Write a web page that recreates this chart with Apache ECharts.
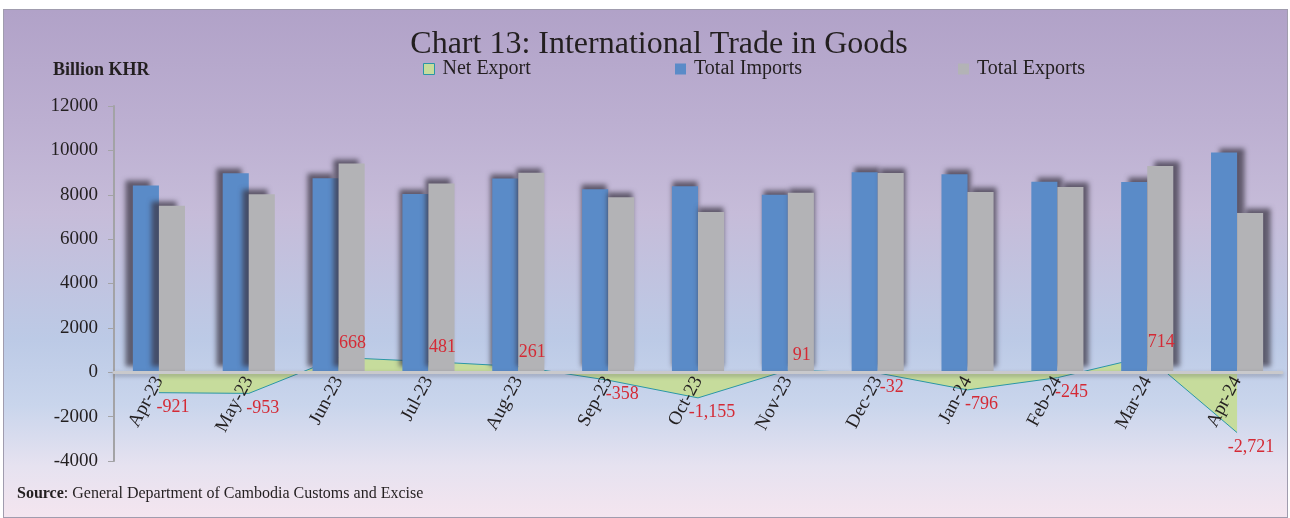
<!DOCTYPE html>
<html>
<head>
<meta charset="utf-8">
<script src="https://cdn.jsdelivr.net/npm/echarts@6/dist/echarts.min.js"></script>
<style>
  body { margin: 0; background: #fff; }
  #main {
    position: absolute; left: 3px; top: 9px; width: 1285px; height: 509px;
    box-sizing: border-box; border: 1px solid #a09cae;
    background: linear-gradient(to bottom, #b1a2c8 0%, #bcafd1 22%, #c6bcd9 40%, #bccae6 65%, #c9d5ec 78%, #e6e2f0 90%, #f4e5ef 100%);
  }
</style>
</head>
<body>
<div id="main"></div>
<script>
// months on the x axis
var months = ['Apr-23','May-23','Jun-23','Jul-23','Aug-23','Sep-23','Oct-23','Nov-23','Dec-23','Jan-24','Feb-24','Mar-24','Apr-24']
// billion KHR
var totalImports = [8420, 8970, 8740, 8030, 8730, 8250, 8380, 7995, 9015, 8920, 8590, 8580, 9900]
var totalExports = [7499, 8017, 9408, 8511, 8991, 7892, 7225, 8086, 8983, 8124, 8345, 9294, 7179]
var netExport = [-921, -953, 668, 481, 261, -358, -1155, 91, -32, -796, -245, 714, -2721]
var yTicks = [-4000, 12000, 2000] // min, max, step

var serif = 'Liberation Serif'
var chart = echarts.init(document.getElementById('main'))

var gridTop = 96, gridBottom = 56
var gridH = 509 - gridTop - gridBottom
// month labels sit on the zero line like in the original
var zeroOffset = -gridH * (0 - yTicks[0]) / (yTicks[1] - yTicks[0])

// bars get a slanted shadow, left side to the left, right side to the right
function barData(arr){
  return arr.map(function(v, i){
    return { value: v, itemStyle: { shadowOffsetX: (i - 6) * 1.3 } }
  })
}
var netData = netExport.map(function(v){
  return { value: v, label: { position: v >= 0 ? 'top' : 'bottom' } }
})

var shadow = { shadowColor: 'rgba(60,55,70,0.75)', shadowBlur: 5, shadowOffsetY: -5 }

var option = {
  animation: false,
  title: {
    text: 'Chart 13: International Trade in Goods',
    left: 650, top: 14, textAlign: 'center',
    textStyle: { fontFamily: serif, fontSize: 32, fontWeight: 'normal', color: '#231f20' }
  },
  legend: [
    { data: [{ name: 'Net Export', itemStyle: { color: '#c6dc9c', borderColor: '#2a96a6', borderWidth: 1 } }], left: 414, top: 44 },
    { data: ['Total Imports'], left: 666, top: 44 },
    { data: ['Total Exports'], left: 949, top: 44 }
  ].map(function(l){
    l.itemWidth = 11; l.itemHeight = 11; l.icon = 'rect'
    l.textStyle = { fontFamily: serif, fontSize: 20, color: '#231f20', padding: [0, 0, 0, 3] }
    return l
  }),
  grid: { left: 110, right: 5, top: gridTop, bottom: gridBottom },
  xAxis: [{
    type: 'category',
    data: months,
    offset: zeroOffset,
    z: 4,
    axisLine: { onZero: false, lineStyle: { color: '#c9c9cc', width: 3, shadowColor: 'rgba(60,60,70,0.4)', shadowBlur: 4, shadowOffsetY: 2 } },
    axisTick: { show: false },
    axisLabel: { rotate: 62, margin: 6, fontFamily: serif, fontSize: 19, color: '#231f20' }
  }],
  yAxis: {
    type: 'value',
    min: yTicks[0], max: yTicks[1], interval: yTicks[2],
    axisLine: { show: true, lineStyle: { color: '#a3a3a6', width: 2 } },
    axisTick: { show: true, length: 6, lineStyle: { color: '#a3a3a6' } },
    splitLine: { show: false },
    axisLabel: { margin: 16, fontFamily: serif, fontSize: 19, color: '#231f20', formatter: function(v){ return String(v) } }
  },
  series: [
    {
      name: 'Net Export',
      type: 'line',
      data: netExport,
      z: 1,
      symbol: 'none',
      lineStyle: { color: '#2a96a6', width: 1 },
      itemStyle: { color: '#2a96a6' },
      areaStyle: { color: '#c6dc9c', opacity: 1 }
    },
    {
      // same values again, only to carry the red labels above the bars
      name: 'Net Export labels',
      type: 'line',
      data: netData,
      z: 6,
      symbol: 'circle',
      symbolSize: 1,
      showSymbol: true,
      lineStyle: { width: 0, color: 'rgba(0,0,0,0)' },
      itemStyle: { color: 'rgba(0,0,0,0)' },
      label: {
        show: true, offset: [14, 0],
        fontFamily: serif, fontSize: 18, color: '#d42a35',
        formatter: function(p){ return p.value.toLocaleString('en-US') }
      }
    },
    {
      name: 'Total Imports',
      type: 'bar',
      data: barData(totalImports),
      z: 3,
      barGap: '0%',
      barCategoryGap: '42%',
      itemStyle: Object.assign({ color: '#5a8bc8' }, shadow)
    },
    {
      name: 'Total Exports',
      type: 'bar',
      data: barData(totalExports),
      z: 3,
      itemStyle: Object.assign({ color: '#b3b3b6' }, shadow)
    }
  ],
  graphic: [
    {
      type: 'text', left: 49, top: 51,
      style: { text: 'Billion KHR', font: 'bold 18px "Liberation Serif"', fill: '#231f20' }
    },
    {
      type: 'text', left: 13, top: 476,
      style: {
        text: '{b|Source}: General Department of Cambodia Customs and Excise',
        rich: { b: { fontWeight: 'bold', fontFamily: serif, fontSize: 16, fill: '#231f20' } },
        fontFamily: serif, fontSize: 16, fill: '#231f20'
      }
    }
  ]
}
chart.setOption(option)
</script>
</body>
</html>
